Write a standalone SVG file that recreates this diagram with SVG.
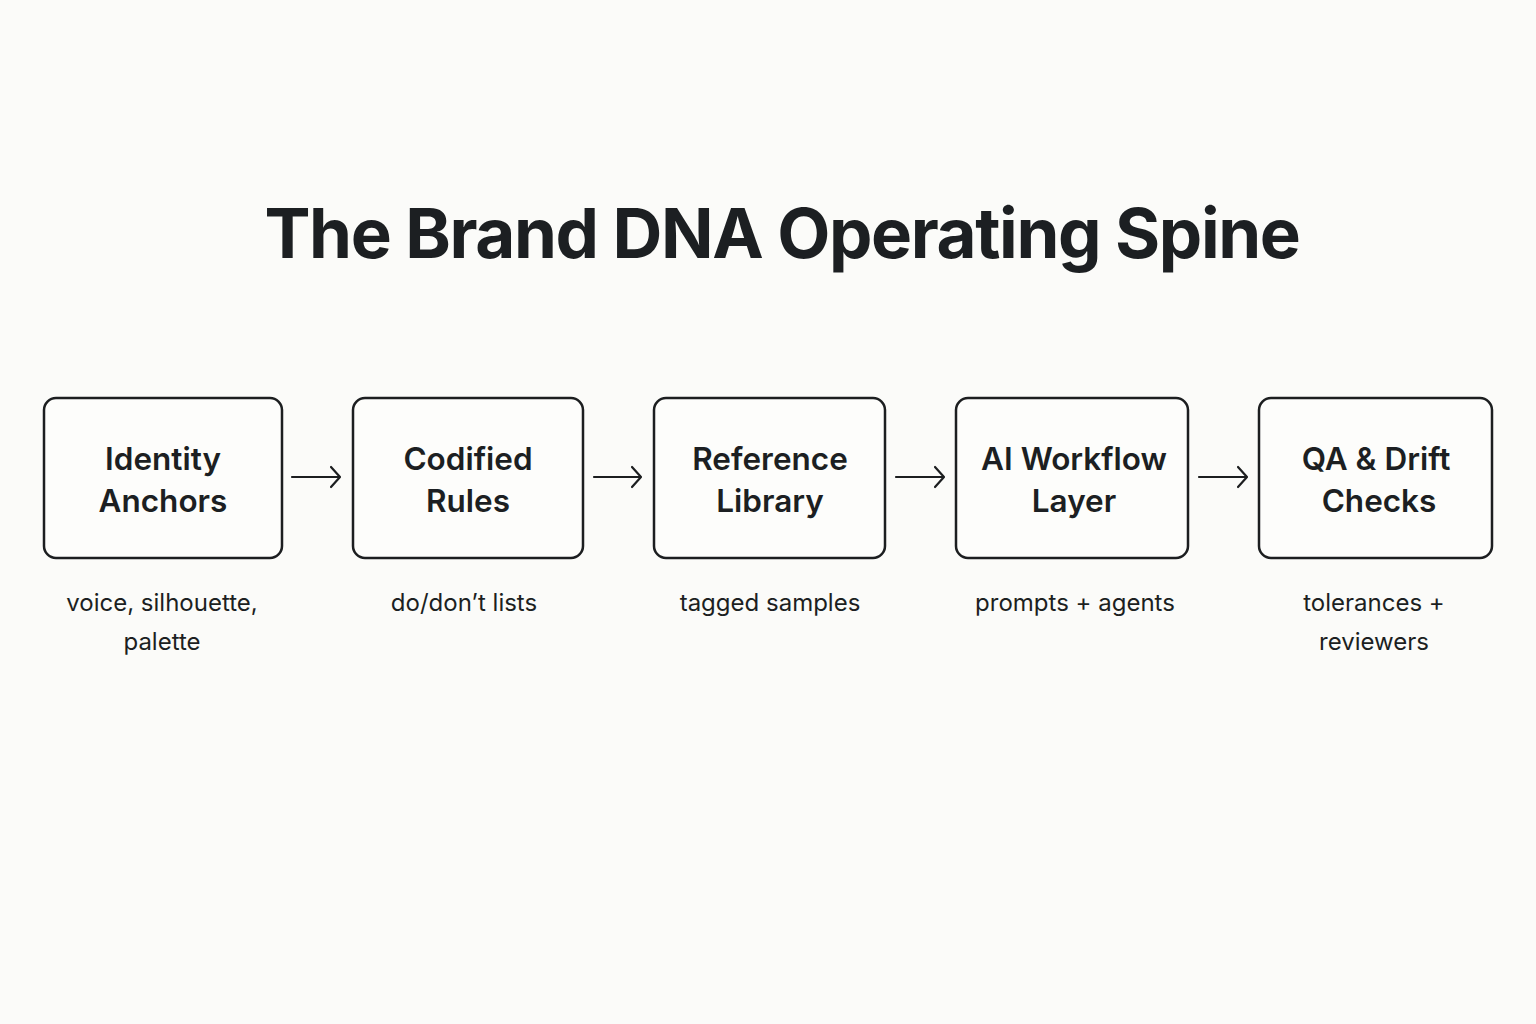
<svg xmlns="http://www.w3.org/2000/svg" width="1536" height="1024" viewBox="0 0 1536 1024">
<defs>
<style>
.bg{fill:#fbfbf9}
.box{fill:#fdfdfb;stroke:#1c1e20;stroke-width:2.5}
.t{font-family:Inter,"Noto Sans","Liberation Sans",sans-serif;fill:#1c1f22;text-anchor:middle}
.title{font-size:69px;font-weight:700;letter-spacing:-1.4px}
.lbl{font-size:31.5px;font-weight:600}
.sub{font-size:24px;font-weight:400}
.arr{fill:none;stroke:#1c1e20;stroke-width:2.2;stroke-linecap:round;stroke-linejoin:round}
</style>
</defs>
<rect class="bg" x="0" y="0" width="1536" height="1024"/>
<text class="t title" x="782" y="258">The Brand DNA Operating Spine</text>
<g id="node1">
<rect class="box" x="44" y="398" width="238" height="160" rx="12"/>
<text class="t lbl" x="163" y="470">Identity</text>
<text class="t lbl" x="163" y="512">Anchors</text>
<text class="t sub" x="162" y="611">voice, silhouette,</text>
<text class="t sub" x="162" y="650">palette</text>
</g>
<g id="node2">
<rect class="box" x="353" y="398" width="230" height="160" rx="12"/>
<text class="t lbl" x="468" y="470">Codified</text>
<text class="t lbl" x="468" y="512">Rules</text>
<text class="t sub" x="464" y="611">do/don’t lists</text>
</g>
<g id="node3">
<rect class="box" x="654" y="398" width="231" height="160" rx="12"/>
<text class="t lbl" x="770" y="470">Reference</text>
<text class="t lbl" x="770" y="512">Library</text>
<text class="t sub" x="770" y="611">tagged samples</text>
</g>
<g id="node4">
<rect class="box" x="956" y="398" width="232" height="160" rx="12"/>
<text class="t lbl" x="1074" y="470">AI Workflow</text>
<text class="t lbl" x="1074" y="512">Layer</text>
<text class="t sub" x="1075" y="611">prompts + agents</text>
</g>
<g id="node5">
<rect class="box" x="1259" y="398" width="233" height="160" rx="12"/>
<text class="t lbl" x="1376" y="470">QA &amp; Drift</text>
<text class="t lbl" x="1379" y="512">Checks</text>
<text class="t sub" x="1374" y="611">tolerances +</text>
<text class="t sub" x="1374" y="650">reviewers</text>
</g>
<g id="connectors">
<path class="arr" d="M292 477H340M331 467L340 477L331 487"/>
<path class="arr" d="M594 477H641M632 467L641 477L632 487"/>
<path class="arr" d="M896 477H944M935 467L944 477L935 487"/>
<path class="arr" d="M1199 477H1247M1238 467L1247 477L1238 487"/>
</g>
</svg>
